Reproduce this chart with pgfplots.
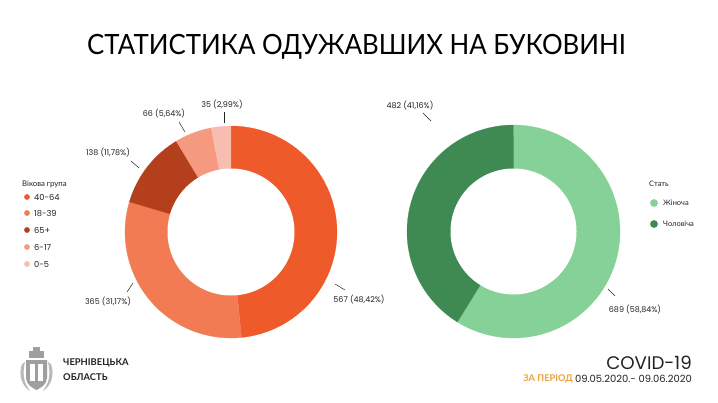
\documentclass[border=0pt]{standalone}
\usepackage{graphicx}
\usepackage{pgfplots}
\pgfplotsset{compat=1.18}
\usepackage{pgfplotstable}
\usepackage{fontspec}
\setmainfont{Lato}
\newfontfamily\pop{Poppins}
\newfontfamily\lato{Lato}
\definecolor{cA}{HTML}{EF5A2A}
\definecolor{cB}{HTML}{F27B54}
\definecolor{cC}{HTML}{B33F1C}
\definecolor{cD}{HTML}{F59A7F}
\definecolor{cE}{HTML}{F7BDB0}
\definecolor{gF}{HTML}{85D197}
\definecolor{gM}{HTML}{3F8A52}
\definecolor{gold}{HTML}{E8A33A}
\definecolor{txt}{HTML}{222222}

\pgfplotstableread{
grp value
40-64 567
18-39 365
65+ 138
6-17 66
0-5 35
}\agedata
\pgfplotstableread{
grp value
F 689
M 482
}\sexdata
\newcommand\getv[3]{\pgfplotstablegetelem{#2}{value}\of#1\let#3\pgfplotsretval}

\begin{document}%
\begin{tikzpicture}
\getv\agedata{0}\vA\getv\agedata{1}\vB\getv\agedata{2}\vC\getv\agedata{3}\vD\getv\agedata{4}\vE
\getv\sexdata{0}\vF\getv\sexdata{1}\vM
\pgfmathsetmacro\totL{\vA+\vB+\vC+\vD+\vE}
\pgfmathsetmacro\aA{90}
\pgfmathsetmacro\aB{\aA-360*(\vA/\totL)}
\pgfmathsetmacro\aC{\aB-360*(\vB/\totL)}
\pgfmathsetmacro\aD{\aC-360*(\vC/\totL)}
\pgfmathsetmacro\aE{\aD-360*(\vD/\totL)}
\pgfmathsetmacro\aF{\aE-360*(\vE/\totL)}
\pgfmathsetmacro\totR{\vF+\vM}
\pgfmathsetmacro\bA{90}
\pgfmathsetmacro\bB{\bA-360*(\vF/\totR)}
\pgfmathsetmacro\bC{\bB-360*(\vM/\totR)}
\def\lx{231}\def\ly{232}\def\lR{106}\def\lr{63.5}
\def\rx{513.5}\def\ry{231.5}\def\rR{106.5}\def\rr{63}
\begin{axis}[width=718bp, height=403bp, scale only axis, at={(0,0)}, anchor=south west,
  xmin=0, xmax=718, ymin=0, ymax=403, y dir=reverse,
  hide axis, xtick=\empty, ytick=\empty, axis lines=none, clip=false]
\fill[white] (axis cs:0,0) rectangle (axis cs:718,403);
% left donut
\addplot[fill=cA, draw=cA, line width=0.2pt, domain=\aB:\aA, samples=90] ({\lx+\lR*cos(x)},{\ly-\lR*sin(x)}) -- (axis cs:\lx,\ly) -- cycle;
\addplot[fill=cB, draw=cB, line width=0.2pt, domain=\aC:\aB, samples=60] ({\lx+\lR*cos(x)},{\ly-\lR*sin(x)}) -- (axis cs:\lx,\ly) -- cycle;
\addplot[fill=cC, draw=cC, line width=0.2pt, domain=\aD:\aC, samples=30] ({\lx+\lR*cos(x)},{\ly-\lR*sin(x)}) -- (axis cs:\lx,\ly) -- cycle;
\addplot[fill=cD, draw=cD, line width=0.2pt, domain=\aE:\aD, samples=20] ({\lx+\lR*cos(x)},{\ly-\lR*sin(x)}) -- (axis cs:\lx,\ly) -- cycle;
\addplot[fill=cE, draw=cE, line width=0.2pt, domain=\aF:\aE, samples=12] ({\lx+\lR*cos(x)},{\ly-\lR*sin(x)}) -- (axis cs:\lx,\ly) -- cycle;
\addplot[fill=white, draw=none, domain=0:360, samples=145] ({\lx+\lr*cos(x)},{\ly-\lr*sin(x)}) -- cycle;
% right donut
\addplot[fill=gF, draw=gF, line width=0.2pt, domain=\bB:\bA, samples=100] ({\rx+\rR*cos(x)},{\ry-\rR*sin(x)}) -- (axis cs:\rx,\ry) -- cycle;
\addplot[fill=gM, draw=gM, line width=0.2pt, domain=\bC:\bB, samples=80] ({\rx+\rR*cos(x)},{\ry-\rR*sin(x)}) -- (axis cs:\rx,\ry) -- cycle;
\addplot[fill=white, draw=none, domain=0:360, samples=145] ({\rx+\rr*cos(x)},{\ry-\rr*sin(x)}) -- cycle;
% legend markers
\addplot[only marks, mark=*, mark size=2.6bp, color=cA] coordinates {(27,197)};
\addplot[only marks, mark=*, mark size=2.6bp, color=cB] coordinates {(27,213)};
\addplot[only marks, mark=*, mark size=2.6bp, color=cC] coordinates {(27,230)};
\addplot[only marks, mark=*, mark size=2.6bp, color=cD] coordinates {(27,247)};
\addplot[only marks, mark=*, mark size=2.6bp, color=cE] coordinates {(27,264)};
\addplot[only marks, mark=*, mark size=3.6bp, color=gF] coordinates {(654,203)};
\addplot[only marks, mark=*, mark size=3.6bp, color=gM] coordinates {(654,224)};
% title
\node[text=black] at (axis cs:356.5,47) {\fontsize{28}{30}\selectfont\lato\scalebox{0.925}[1]{СТАТИСТИКА ОДУЖАВШИХ НА БУКОВИНІ}};
% legend texts
\node[anchor=west, text=txt, inner sep=0] at (axis cs:22,184) {\fontsize{7.8}{9}\selectfont Вікова група};
\node[anchor=west, text=txt, inner sep=0] at (axis cs:34,197.5) {\fontsize{8.3}{9}\selectfont\pop 40-64};
\node[anchor=west, text=txt, inner sep=0] at (axis cs:34,213.5) {\fontsize{8.3}{9}\selectfont\pop 18-39};
\node[anchor=west, text=txt, inner sep=0] at (axis cs:34,230.5) {\fontsize{8.3}{9}\selectfont\pop 65+};
\node[anchor=west, text=txt, inner sep=0] at (axis cs:34,247.5) {\fontsize{8.3}{9}\selectfont\pop 6-17};
\node[anchor=west, text=txt, inner sep=0] at (axis cs:34,264.5) {\fontsize{8.3}{9}\selectfont\pop 0-5};
\node[anchor=west, text=txt, inner sep=0] at (axis cs:649,184) {\fontsize{7.5}{9}\selectfont Стать};
\node[anchor=west, text=txt, inner sep=0] at (axis cs:663,203) {\fontsize{7.5}{9}\selectfont Жіноча};
\node[anchor=west, text=txt, inner sep=0] at (axis cs:663,224) {\fontsize{7.5}{9}\selectfont Чоловіча};
% data labels
\def\lab#1#2#3{\node[text=txt, inner sep=0] at (axis cs:#1,#2) {\fontsize{8}{9}\selectfont\pop #3};}
\lab{222}{105}{35 (2,99\%)}
\lab{164}{114}{66 (5,64\%)}
\lab{108}{153}{138 (11,78\%)}
\lab{108}{302}{365 (31,17\%)}
\lab{359}{300}{567 (48,42\%)}
\lab{410}{106}{482 (41,16\%)}
\lab{635}{310}{689 (58,84\%)}
\draw[txt, line width=0.5pt] (axis cs:224,112) -- (axis cs:224,123);
\draw[txt, line width=0.5pt] (axis cs:179,122) -- (axis cs:185,132);
\draw[txt, line width=0.5pt] (axis cs:131,161) -- (axis cs:139,168);
\draw[txt, line width=0.5pt] (axis cs:127,292) -- (axis cs:133,283);
\draw[txt, line width=0.5pt] (axis cs:335,284) -- (axis cs:345,290);
\draw[txt, line width=0.5pt] (axis cs:423,113) -- (axis cs:431,121);
\draw[txt, line width=0.5pt] (axis cs:608,289) -- (axis cs:615,296);
% footer
\node[anchor=west, text=txt, inner sep=0] at (axis cs:63,363) {\fontsize{9.4}{10}\selectfont\bfseries ЧЕРНІВЕЦЬКА};
\node[anchor=west, text=txt, inner sep=0] at (axis cs:63,377) {\fontsize{9.4}{10}\selectfont\bfseries ОБЛАСТЬ};
\node[anchor=east, text=txt, inner sep=0] at (axis cs:692,363) {\fontsize{18.3}{19}\selectfont\pop COVID-19};
\node[anchor=east, text=txt, inner sep=0] at (axis cs:692,378.5) {\fontsize{10}{11}\selectfont\pop 09.05.2020.- 09.06.2020};
\node[anchor=east, text=gold, inner sep=0] at (axis cs:573,378.5) {\fontsize{9.3}{10}\selectfont\bfseries ЗА ПЕРІОД};
% coat of arms (decorative)
\fill[gray!75] (axis cs:26,360) -- (axis cs:47,360) -- (axis cs:47,378) .. controls (axis cs:47,385) and (axis cs:40,388) .. (axis cs:36.5,390) .. controls (axis cs:33,388) and (axis cs:26,385) .. (axis cs:26,378) -- cycle;
\fill[gray!75] (axis cs:29,358) rectangle (axis cs:44,351);
\fill[gray!75] (axis cs:33,351) rectangle (axis cs:40,347);
\fill[gray!55] (axis cs:22,364) .. controls (axis cs:18,375) and (axis cs:22,386) .. (axis cs:30,391) -- (axis cs:27,386) .. controls (axis cs:23,380) and (axis cs:23,370) .. (axis cs:25,362) -- cycle;
\fill[gray!55] (axis cs:51,364) .. controls (axis cs:55,375) and (axis cs:51,386) .. (axis cs:43,391) -- (axis cs:46,386) .. controls (axis cs:50,380) and (axis cs:50,370) .. (axis cs:48,362) -- cycle;
\fill[white] (axis cs:30,364) rectangle (axis cs:35,381);
\fill[white] (axis cs:38,364) rectangle (axis cs:43,381);
\end{axis}
\end{tikzpicture}%
\end{document}
